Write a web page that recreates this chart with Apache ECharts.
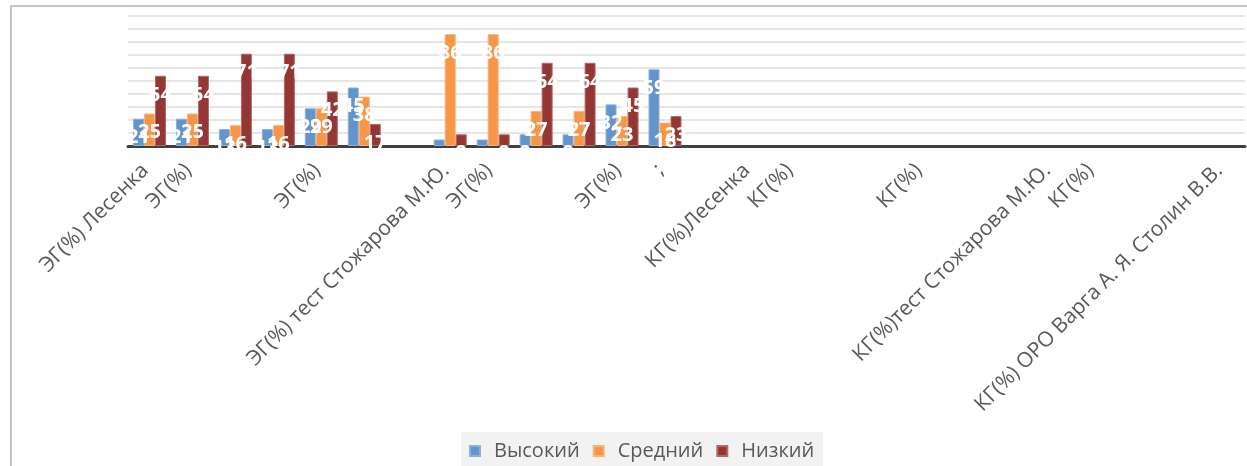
<!DOCTYPE html>
<html>
<head>
<meta charset="utf-8">
<script src="https://cdn.jsdelivr.net/npm/echarts@6/dist/echarts.min.js"></script>
<style>
html,body{margin:0;padding:0;background:#fff;}
#chart{width:1247px;height:466px;}
</style>
</head>
<body>
<div id="chart"></div>
<script>
// Category labels (26 categories, many without a visible label)
var categories = [
  "ЭГ(%) Лесенка", "ЭГ(%)", "", "", "ЭГ(%)", "", "",
  "ЭГ(%) тест Стожарова М.Ю.", "ЭГ(%)", "", "", "ЭГ(%)", ";", "",
  "КГ(%)Лесенка", "КГ(%)", "", "", "КГ(%)", "", "",
  "КГ(%)тест Стожарова М.Ю.", "КГ(%)", "", "", "КГ(%) ОРО Варга А. Я. Столин В.В."
];
var seriesNames = ["Высокий", "Средний", "Низкий"];
var vysokiy = [21, 21, 13, 13, 29, 45, null, 5, 5, 9, 9, 32, 59, null, null, null, null, null, null, null, null, null, null, null, null, null];
var sredniy = [25, 25, 16, 16, 29, 38, null, 86, 86, 27, 27, 23, 18, null, null, null, null, null, null, null, null, null, null, null, null, null];
var nizkiy  = [54, 54, 71, 71, 42, 17, null, 9, 9, 64, 64, 45, 23, null, null, null, null, null, null, null, null, null, null, null, null, null];

var FONT = "Open Sans";
var colors = ["#6394cc", "#f79646", "#943634"];
var borders = ["#8cb0da", "#f9b27a", "#b26a68"];
var valuesList = [vysokiy, sredniy, nizkiy];

var chart = echarts.init(document.getElementById('chart'), null, {renderer: 'canvas'});
var series = seriesNames.map(function (name, i) {
  return {
    name: name,
    type: 'bar',
    data: valuesList[i],
    barWidth: 11,
    barGap: '0%',
    itemStyle: {color: colors[i], borderColor: borders[i], borderWidth: 1},
    label: {
      show: true,
      position: 'insideTop',
      distance: 9,
      color: '#ffffff',
      fontFamily: FONT,
      fontWeight: 'bold',
      fontSize: 20
    }
  };
});

chart.setOption({
  animation: false,
  backgroundColor: '#ffffff',
  textStyle: {fontFamily: FONT},
  color: colors,
  graphic: [{
    type: 'rect',
    shape: {x: 11, y: 6, width: 1400, height: 600},
    style: {fill: 'none', stroke: '#c6c6c6', lineWidth: 2},
    silent: true, z: -1
  }],
  grid: {left: 128, right: 2, top: 16, bottom: 320, containLabel: false},
  legend: {
    data: seriesNames,
    left: 461,
    top: 432,
    padding: [9, 9, 7, 8],
    backgroundColor: '#f2f2f2',
    icon: 'rect',
    itemWidth: 10,
    itemHeight: 10,
    itemGap: 13,
    textStyle: {color: '#595959', fontSize: 20, fontFamily: FONT, padding: [0, 0, 0, 9]}
  },
  xAxis: {
    type: 'category',
    data: categories,
    boundaryGap: true,
    axisLine: {show: true, lineStyle: {color: '#404040', width: 3}},
    axisTick: {show: false},
    axisLabel: {
      interval: 0,
      rotate: 45,
      margin: 17,
      padding: [0, 6, 0, 0],
      color: '#595959',
      fontSize: 21,
      fontFamily: FONT
    }
  },
  yAxis: {
    type: 'value',
    min: 0,
    max: 100,
    interval: 10,
    axisLine: {show: false},
    axisTick: {show: false},
    axisLabel: {show: false},
    splitLine: {lineStyle: {color: '#dedede', width: 1.5}}
  },
  series: series
});
</script>
</body>
</html>
